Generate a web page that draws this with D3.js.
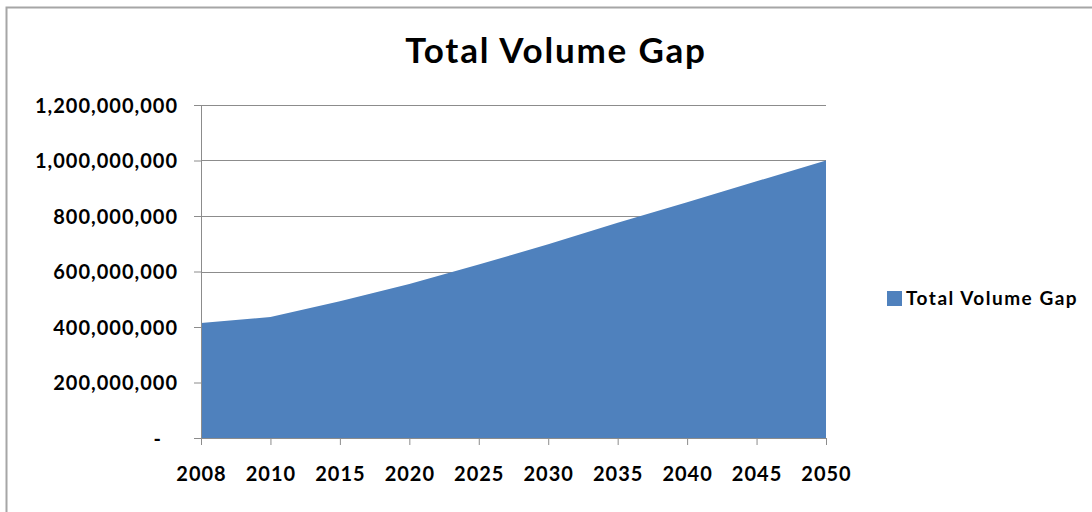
<!DOCTYPE html>
<html>
<head>
<meta charset="utf-8">
<script src="https://cdn.jsdelivr.net/npm/d3@7"></script>
<style>
  body { margin: 0; background: #fff; }
  svg { display: block; }
  text { font-family: Lato, "Open Sans", sans-serif; font-weight: bold; fill: #000; }
</style>
</head>
<body>
<div id="chart"></div>
<script>
// data
var years = ["2008", "2010", "2015", "2020", "2025", "2030", "2035", "2040", "2045", "2050"];
var gapValues = [414e6, 436e6, 493e6, 555e6, 625e6, 698e6, 776e6, 850e6, 925e6, 1000e6];
var yTicks = [0, 200e6, 400e6, 600e6, 800e6, 1000e6, 1200e6];
var seriesName = "Total Volume Gap";

var W = 1092, H = 512;
var margin = {top: 105, left: 201, right: 266, bottom: 74};
var width = W - margin.left - margin.right,
    height = H - margin.top - margin.bottom;

var svg = d3.select("#chart").append("svg")
    .attr("width", W)
    .attr("height", H);

// outer frame, only top and left edges show
svg.append("path")
    .attr("d", "M6.5," + H + "V7.5H" + W)
    .attr("fill", "none")
    .attr("stroke", "#a6a6a6")
    .attr("stroke-width", 2);

var g = svg.append("g")
    .attr("transform", "translate(" + margin.left + "," + margin.top + ")");

var x = d3.scalePoint()
    .domain(years)
    .range([0, width]);

var y = d3.scaleLinear()
    .domain([0, 1200e6])
    .range([height, 0]);

// gridlines
g.selectAll(".grid")
    .data(yTicks.filter(function(d){ return d > 0; }))
    .enter().append("line")
    .attr("class", "grid")
    .attr("x1", 0)
    .attr("x2", width)
    .attr("y1", function(d){ return Math.round(y(d)) + 0.5; })
    .attr("y2", function(d){ return Math.round(y(d)) + 0.5; })
    .attr("stroke", "#8c8c8c")
    .attr("stroke-width", 1);

var data = years.map(function(yr, i){ return {year: yr, v: gapValues[i]}; });

var area = d3.area()
    .x(function(d){ return x(d.year); })
    .y0(y(0))
    .y1(function(d){ return y(d.v); });

g.append("path")
    .datum(data)
    .attr("d", area)
    .attr("fill", "#4f81bd");

var fmt = d3.format(",");

var yAxis = d3.axisLeft(y)
    .tickValues(yTicks)
    .tickSize(7)
    .tickPadding(16)
    .tickFormat(function(d){ return d === 0 ? "-" : fmt(d); });

var yG = g.append("g").attr("class", "y axis").call(yAxis);

var xAxis = d3.axisBottom(x)
    .tickSize(7)
    .tickPadding(22);

var xG = g.append("g")
    .attr("class", "x axis")
    .attr("transform", "translate(0," + height + ")")
    .call(xAxis);

svg.selectAll(".axis .domain").attr("stroke", "#8c8c8c");
svg.selectAll(".axis .tick line").attr("stroke", "#8c8c8c");
svg.selectAll(".axis text")
    .style("font-size", "20px")
    .style("letter-spacing", "1px")
    .attr("fill", "#000");
yG.selectAll("text").attr("dy", "0.35em");
yG.selectAll(".tick text")
    .filter(function(d){ return d === 0; })
    .attr("dx", -16);

// title
svg.append("text")
    .attr("x", 556)
    .attr("y", 63)
    .attr("text-anchor", "middle")
    .style("font-size", "35px")
    .style("letter-spacing", "1.8px")
    .text(seriesName);

// legend
var legend = svg.append("g")
    .attr("transform", "translate(887,291)");
legend.append("rect")
    .attr("width", 15)
    .attr("height", 15)
    .attr("fill", "#4f81bd");
legend.append("text")
    .attr("x", 19)
    .attr("y", 7.5)
    .attr("dy", "0.35em")
    .style("font-size", "19px")
    .style("letter-spacing", "1.5px")
    .text(seriesName);
</script>
</body>
</html>
